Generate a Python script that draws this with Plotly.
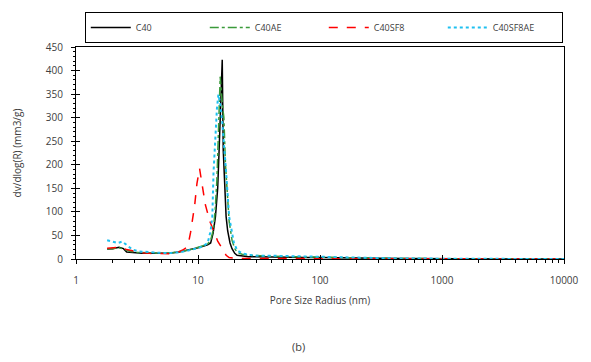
import plotly.graph_objects as go

# ---- data ----
r_c40 = [1.8, 2.0, 2.25, 2.45, 2.6, 3.0, 3.5, 4.3, 5.0, 6.0, 7.0, 8.0, 9.0, 10.0, 11.0, 12.0, 12.7,
         13.3, 13.9, 14.5, 14.9, 15.8, 16.1, 16.5, 17.0, 17.5, 18.3, 19.0, 20.0, 20.9, 23, 26, 30, 40,
         55, 75, 100, 150, 200, 300, 500, 800, 1200, 2000, 5000, 10000]
v_c40 = [21, 22, 25, 22, 15, 13, 12, 12, 12, 13, 15, 18, 21, 24, 27, 30, 34,
         55, 90, 150, 232, 423, 232, 160, 90, 60, 34, 22, 12, 8, 6, 5, 5, 4,
         4, 3, 3, 2, 2, 1.5, 1, 0.5, 0.3, 0.1, 0, 0]

r_c40ae = [1.8, 2.0, 2.25, 2.5, 2.8, 3.2, 3.7, 4.3, 5.0, 6.0, 7.0, 8.0, 9.0, 10.0, 11.0, 12.0, 12.7,
           13.3, 13.8, 14.3, 14.8, 15.2, 15.8, 16.3, 16.8, 17.3, 18.0, 19.0, 20.0, 21.0, 23, 26, 30, 40,
           55, 75, 100, 150, 200, 300, 500, 800, 1200, 2000, 5000, 10000]
v_c40ae = [22, 22, 24, 20, 16, 14, 13, 12, 12, 13, 15, 18, 21, 24, 28, 32, 40,
           60, 100, 170, 280, 387, 330, 300, 200, 140, 80, 40, 22, 14, 10, 8, 7, 6,
           5, 5, 4, 3, 3, 2, 1, 0.5, 0.3, 0.2, 0, 0]

r_c40sf8 = [1.8, 2.0, 2.3, 2.6, 3.0, 3.5, 4.0, 5.0, 6.0, 6.5, 7.0, 7.5, 8.0, 8.3, 8.7, 9.0, 9.4, 9.8,
            10.3, 10.7, 11.5, 12.5, 13.6, 14.5, 15.8, 17.0, 18.0, 20.0, 25, 30, 50, 100, 200, 500,
            1000, 2000, 5000, 10000]
v_c40sf8 = [23, 24, 25, 20, 16, 13, 12, 11, 11, 12, 15, 19, 24, 30, 57, 80, 115, 160,
            192, 165, 115, 80, 57, 38, 22, 8, 3, 1.5, 1, 1, 1, 1, 0.8, 0.5,
            0.2, 0, 0, 0]

r_c40sf8ae = [1.8, 2.0, 2.2, 2.4, 2.6, 2.9, 3.3, 4.0, 5.0, 6.0, 7.0, 8.0, 9.0, 10.0, 11.0, 12.0, 12.7,
              13.1, 13.4, 13.8, 14.3, 14.7, 15.2, 15.8, 16.3, 17.0, 18.0, 19.7, 21.0, 23, 26, 30, 40,
              55, 75, 100, 150, 200, 300, 500, 800, 1200, 2000, 5000, 10000]
v_c40sf8ae = [40, 37, 34, 37, 30, 20, 16, 14, 13, 13, 14, 17, 20, 23, 27, 34, 60,
              90, 183, 250, 320, 349, 330, 290, 250, 185, 90, 34, 18, 12, 9, 7, 7,
              6, 6, 5, 4, 3, 2, 1, 0.5, 0.3, 0.2, 0.1, 0]

series_names = ["C40", "C40AE", "C40SF8", "C40SF8AE"]
x_tick_vals = [1, 10, 100, 1000, 10000]
x_tick_text = ["1", "10", "100", "1000", "10000"]
y_tick_vals = [0, 50, 100, 150, 200, 250, 300, 350, 400, 450]

# ---- figure ----
styles = [
    dict(color="#000000", dash="solid", width=1.5),
    dict(color="#3A9A3A", dash="dashdot", width=1.5),
    dict(color="#FF0000", dash="dash", width=1.5),
    dict(color="#1EC0F0", dash="dot", width=2),
]
data = [(r_c40, v_c40), (r_c40ae, v_c40ae), (r_c40sf8, v_c40sf8), (r_c40sf8ae, v_c40sf8ae)]

fig = go.Figure()
for (rx, vy), name, st in zip(data, series_names, styles):
    fig.add_trace(go.Scatter(x=rx, y=vy, mode="lines", name=name, line=st))

# invisible trace to drive the overlay axes (inside ticks => crossing ticks)
fig.add_trace(go.Scatter(x=[1], y=[0], xaxis="x2", yaxis="y2", mode="markers",
                         marker=dict(opacity=0), showlegend=False, hoverinfo="skip"))

font = "Open Sans, Liberation Sans, sans-serif"
tick_font = dict(family=font, size=10, color="#404040")

fig.update_layout(
    width=591, height=362,
    margin=dict(l=76, r=18, t=47, b=103),
    paper_bgcolor="white", plot_bgcolor="white",
    font=dict(family=font, size=10, color="#404040"),
    showlegend=True,
    legend=dict(
        orientation="h", x=0.018, xanchor="left", y=1.165, yanchor="top",
        bordercolor="#000000", borderwidth=1,
        font=dict(family=font, size=9, color="#404040"),
        entrywidth=64, entrywidthmode="pixels",
        itemwidth=40,
    ),
    xaxis=dict(
        type="log", range=[0, 4],
        tickvals=x_tick_vals, ticktext=x_tick_text,
        ticks="outside", ticklen=4, tickcolor="#000000", tickwidth=1,
        minor=dict(ticks="outside", ticklen=3, tickcolor="#000000", dtick="D1"),
        showline=True, linecolor="#000000", linewidth=1, mirror=True,
        showgrid=False, zeroline=False,
        tickfont=tick_font, ticklabelstandoff=8,
        title=dict(text="Pore Size Radius (nm)", font=dict(family=font, size=10, color="#404040"), standoff=10),
    ),
    yaxis=dict(
        range=[0, 450], tickvals=y_tick_vals,
        ticks="outside", ticklen=4, tickcolor="#000000", tickwidth=1,
        minor=dict(ticks="outside", ticklen=2, tickcolor="#000000", dtick=10),
        showline=True, linecolor="#000000", linewidth=1, mirror=True,
        showgrid=False, zeroline=False,
        tickfont=tick_font, ticklabelstandoff=6,
        title=dict(text="dv/dlog(R) (mm3/g)", font=dict(family=font, size=10, color="#404040"), standoff=22),
    ),
    xaxis2=dict(
        type="log", range=[0, 4], overlaying="x", anchor="y2", side="bottom",
        tickvals=x_tick_vals, ticks="inside", ticklen=4, tickcolor="#000000",
        showticklabels=False, showgrid=False, zeroline=False, showline=False,
    ),
    yaxis2=dict(
        range=[0, 450], overlaying="y", anchor="x2", side="left",
        tickvals=y_tick_vals, ticks="inside", ticklen=4, tickcolor="#000000",
        showticklabels=False, showgrid=False, zeroline=False, showline=False,
    ),
    annotations=[dict(text="(b)", xref="paper", yref="paper", x=0.455, y=-0.415,
                      xanchor="center", yanchor="middle", showarrow=False,
                      font=dict(family=font, size=11, color="#404040"))],
)

fig.write_html("out.html")
